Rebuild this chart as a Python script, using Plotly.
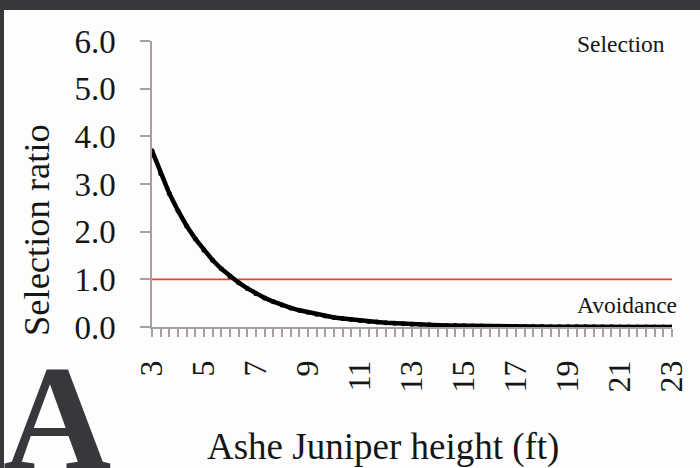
import plotly.graph_objects as go

# Ashe Juniper height (ft), sampled every 1/3 ft
heights = [3 + k / 3 for k in range(61)]
selection_ratio = [
    3.70, 3.22, 2.80, 2.44, 2.12, 1.85, 1.61, 1.40, 1.22, 1.06,
    0.93, 0.81, 0.70, 0.61, 0.53, 0.46, 0.40, 0.35, 0.31, 0.27,
    0.23, 0.20, 0.18, 0.155, 0.135, 0.118, 0.103, 0.09, 0.078, 0.068,
    0.059, 0.052, 0.045, 0.039, 0.034, 0.030, 0.026, 0.023, 0.020, 0.017,
    0.015, 0.013, 0.011, 0.010, 0.009, 0.008, 0.007, 0.006, 0.005, 0.004,
    0.004, 0.003, 0.003, 0.003, 0.002, 0.002, 0.002, 0.002, 0.001, 0.001, 0.001,
]
threshold_x = [3, 23]
threshold_y = [1.0, 1.0]
x_ticks = [3, 5, 7, 9, 11, 13, 15, 17, 19, 21, 23]
y_ticks = [0, 1, 2, 3, 4, 5, 6]
y_tick_labels = ["0.0", "1.0", "2.0", "3.0", "4.0", "5.0", "6.0"]

SERIF = "Liberation Serif"
AXIS_COLOR = "#aa9f9f"
DARK = "#38373c"
TEXT = "#161616"

fig = go.Figure()
fig.add_trace(go.Scatter(
    x=threshold_x, y=threshold_y, mode="lines",
    line=dict(color="#e0452d", width=1.8), hoverinfo="skip",
))
fig.add_trace(go.Scatter(
    x=heights, y=selection_ratio, mode="lines+markers",
    line=dict(color="black", width=4.5),
    marker=dict(color="black", size=5),
))

fig.update_layout(
    width=700, height=468,
    margin=dict(l=152, r=28, t=41, b=141),
    paper_bgcolor="#fdfdfd", plot_bgcolor="#fdfdfd",
    showlegend=False,
    font=dict(family=SERIF, color=TEXT),
)
fig.update_xaxes(
    range=[3, 23], showgrid=False, zeroline=False,
    showline=True, linecolor=AXIS_COLOR, linewidth=1.5,
    tickmode="array", tickvals=x_ticks, ticktext=[str(v) for v in x_ticks],
    ticks="outside", ticklen=8, tickcolor=AXIS_COLOR, tickwidth=1.5,
    tickangle=-90, tickfont=dict(family=SERIF, size=32, color=TEXT),
    ticklabelstandoff=11,
    minor=dict(dtick=1 / 3, tick0=3, ticks="outside", ticklen=8,
               tickcolor=AXIS_COLOR, tickwidth=1.5, showgrid=False),
)
fig.update_yaxes(
    range=[0, 6], showgrid=False, zeroline=False,
    showline=True, linecolor=AXIS_COLOR, linewidth=1.5,
    tickmode="array", tickvals=y_ticks, ticktext=y_tick_labels,
    ticks="outside", ticklen=10, tickcolor=AXIS_COLOR, tickwidth=1.5,
    tickfont=dict(family=SERIF, size=33, color=TEXT),
    ticklabelstandoff=18,
)

# dark frame at top and left
fig.add_shape(type="rect", xref="paper", yref="paper",
              x0=-152 / 520, x1=548 / 520, y0=1 + 31 / 286, y1=1 + 41 / 286,
              fillcolor=DARK, line_width=0, layer="above")
fig.add_shape(type="rect", xref="paper", yref="paper",
              x0=-152 / 520, x1=-148 / 520, y0=-141 / 286, y1=1 + 41 / 286,
              fillcolor=DARK, line_width=0, layer="above")

fig.add_annotation(text="Selection ratio", xref="paper", yref="paper",
                   x=-116 / 520, y=(327 - 230) / 286, textangle=-90, showarrow=False,
                   xanchor="center", yanchor="middle",
                   font=dict(family=SERIF, size=36.5, color=TEXT))
fig.add_annotation(text="Ashe Juniper height (ft)", xref="paper", yref="paper",
                   x=231 / 520, y=-(447 - 327) / 286, showarrow=False,
                   xanchor="center", yanchor="middle",
                   font=dict(family=SERIF, size=37, color=TEXT))
fig.add_annotation(text="Selection", xref="paper", yref="paper",
                   x=(667 - 152) / 520, y=(327 - 44) / 286, showarrow=False,
                   xanchor="right", yanchor="middle",
                   font=dict(family=SERIF, size=23.5, color=TEXT))
fig.add_annotation(text="Avoidance", xref="paper", yref="paper",
                   x=(679 - 152) / 520, y=(327 - 305) / 286, showarrow=False,
                   xanchor="right", yanchor="middle",
                   font=dict(family=SERIF, size=23.5, color=TEXT))
fig.add_annotation(text="<b>A</b>", xref="paper", yref="paper",
                   x=(57 - 152) / 520, y=-(418 - 327) / 286, showarrow=False,
                   xanchor="center", yanchor="middle",
                   font=dict(family=SERIF, size=150, color=DARK))

fig.write_html(
    "out.html",
    config={"displayModeBar": False},
    post_script="document.body.style.margin='0';document.body.style.overflow='hidden';",
)
